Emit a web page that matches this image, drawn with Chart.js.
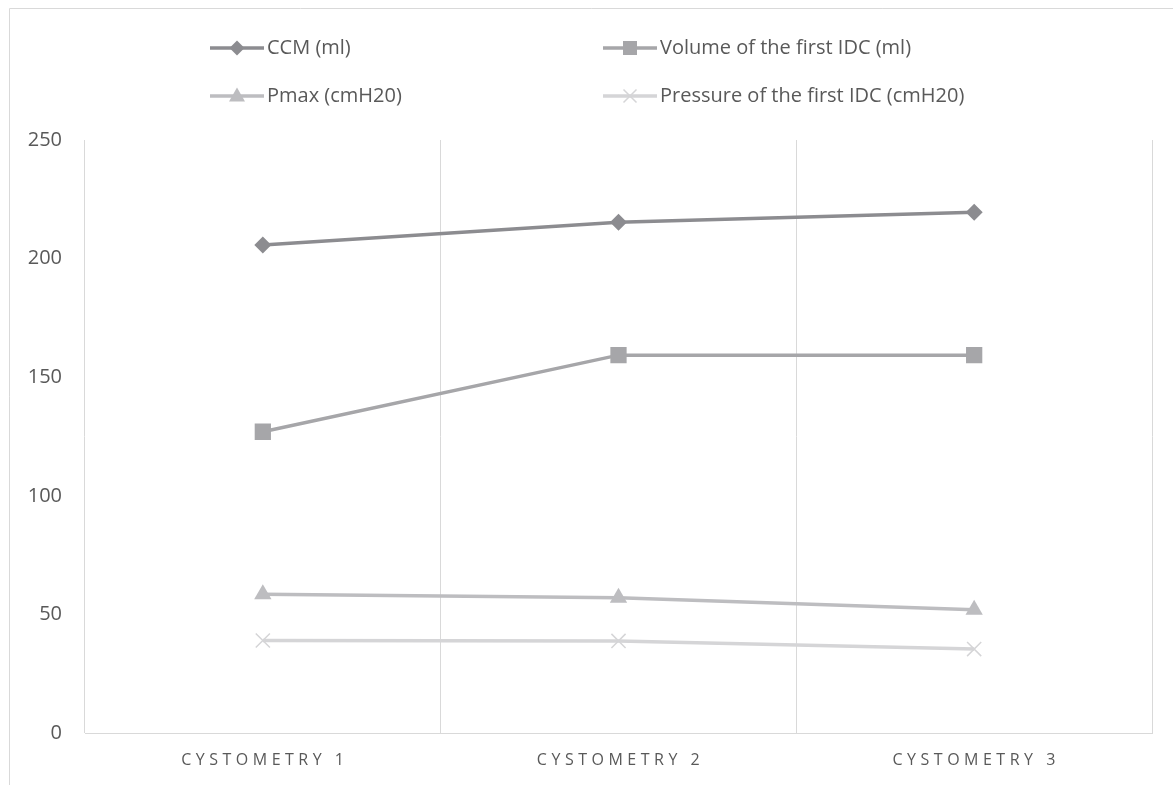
<!DOCTYPE html>
<html>
<head>
<meta charset="utf-8">
<script src="https://cdn.jsdelivr.net/npm/chart.js@4.4.1/dist/chart.umd.min.js"></script>
<style>
  html, body { margin: 0; padding: 0; background: #fff; }
  #wrap { width: 1173px; height: 785px; }
</style>
</head>
<body>
<div id="wrap"><canvas id="chart" width="1173" height="785"></canvas></div>
<script>
const categories = ['Cystometry 1', 'Cystometry 2', 'Cystometry 3'];
const ccm = [205.7, 215.3, 219.5];
const volumeFirstIdc = [127, 159.3, 159.3];
const pmax = [58.5, 57, 52];
const pressureFirstIdc = [39, 38.8, 35.4];
const yTicks = [0, 50, 100, 150, 200, 250];

const GRID = '#d9d9d9';
const TEXT = '#595959';
const FONT = '"Open Sans", "DejaVu Sans", sans-serif';

const series = [
  { label: 'CCM (ml)', data: ccm, color: '#8c8c90', style: 'rectRot', radius: 8.5 },
  { label: 'Volume of the first IDC (ml)', data: volumeFirstIdc, color: '#a6a6a9', style: 'rect', radius: 11.5 },
  { label: 'Pmax (cmH20)', data: pmax, color: '#bdbdc0', style: 'triangle', radius: 10 },
  { label: 'Pressure of the first IDC (cmH20)', data: pressureFirstIdc, color: '#d5d5d7', style: 'crossRot', radius: 10 }
];

// legend in a 2x2 grid, like the excel one
const gridLegend = {
  id: 'gridLegend',
  afterDraw(chart) {
    const ctx = chart.ctx;
    const spots = [[210, 48], [603, 48], [210, 96], [603, 96]];
    ctx.save();
    chart.data.datasets.forEach((ds, i) => {
      const [x, y] = spots[i];
      ctx.strokeStyle = ds.borderColor;
      ctx.lineWidth = 3.5;
      ctx.beginPath();
      ctx.moveTo(x, y);
      ctx.lineTo(x + 54, y);
      ctx.stroke();
      const cx = x + 27;
      ctx.fillStyle = ds.borderColor;
      ctx.beginPath();
      if (ds.pointStyle === 'rectRot') {
        ctx.moveTo(cx - 7.5, y); ctx.lineTo(cx, y - 7.5); ctx.lineTo(cx + 7.5, y); ctx.lineTo(cx, y + 7.5);
        ctx.closePath(); ctx.fill();
      } else if (ds.pointStyle === 'rect') {
        ctx.rect(cx - 7, y - 7, 14, 14); ctx.fill();
      } else if (ds.pointStyle === 'triangle') {
        ctx.moveTo(cx, y - 8.5); ctx.lineTo(cx + 8, y + 5.5); ctx.lineTo(cx - 8, y + 5.5);
        ctx.closePath(); ctx.fill();
      } else {
        ctx.lineWidth = 1.5;
        ctx.moveTo(cx - 6.5, y - 6.5); ctx.lineTo(cx + 6.5, y + 6.5);
        ctx.moveTo(cx + 6.5, y - 6.5); ctx.lineTo(cx - 6.5, y + 6.5);
        ctx.stroke();
      }
      ctx.fillStyle = TEXT;
      ctx.font = '20px ' + FONT;
      ctx.textBaseline = 'middle';
      ctx.textAlign = 'left';
      ctx.fillText(ds.label, x + 57, y);
    });
    ctx.restore();
  }
};

// light border of the chart box (only top and left are in frame)
const outerBorder = {
  id: 'outerBorder',
  beforeDraw(chart) {
    const ctx = chart.ctx;
    ctx.save();
    ctx.strokeStyle = GRID;
    ctx.lineWidth = 1;
    ctx.beginPath();
    ctx.moveTo(9.5, chart.height);
    ctx.lineTo(9.5, 8.5);
    ctx.lineTo(chart.width, 8.5);
    ctx.stroke();
    ctx.restore();
  }
};

// spaced out category labels
const spacedLabels = {
  id: 'spacedLabels',
  afterUpdate(chart) {
    const s = chart.scales.x;
    if (s && !s._spaced) {
      const orig = s.drawLabels.bind(s);
      s.drawLabels = function(area) {
        this.ctx.save();
        this.ctx.letterSpacing = '4.5px';
        this.ctx.translate(2, 0);
        orig(area);
        this.ctx.restore();
      };
      s._spaced = true;
    }
  }
};

new Chart(document.getElementById('chart'), {
  type: 'line',
  data: {
    labels: categories,
    datasets: series.map(s => ({
      label: s.label,
      data: s.data,
      borderColor: s.color,
      backgroundColor: s.color,
      borderWidth: 3.5,
      pointStyle: s.style,
      pointRadius: s.radius,
      pointHoverRadius: s.radius,
      pointBorderWidth: s.style === 'crossRot' ? 1.5 : 0,
      pointBorderColor: s.color,
      pointBackgroundColor: s.color,
      tension: 0,
      fill: false
    }))
  },
  options: {
    responsive: false,
    animation: false,
    layout: { padding: { top: 140, right: 21, left: 0, bottom: 0 } },
    plugins: {
      legend: { display: false },
      tooltip: { enabled: false }
    },
    scales: {
      x: {
        offset: true,
        grid: { offset: true, color: GRID, lineWidth: 1, drawTicks: false },
        border: { display: true, color: GRID, width: 1 },
        ticks: {
          color: TEXT,
          font: { family: FONT, size: 16 },
          padding: 18,
          maxRotation: 0,
          callback: (v, i) => categories[i].toUpperCase()
        },
        afterFit: scale => { scale.height = 52; }
      },
      y: {
        min: 0,
        max: 250,
        grid: { display: false, drawTicks: false },
        border: { display: false },
        ticks: {
          color: TEXT,
          font: { family: FONT, size: 20 },
          padding: 23
        },
        afterBuildTicks: scale => { scale.ticks = yTicks.map(v => ({ value: v })); },
        afterFit: scale => { scale.width = 85; }
      }
    }
  },
  plugins: [gridLegend, outerBorder, spacedLabels]
});
</script>
</body>
</html>
